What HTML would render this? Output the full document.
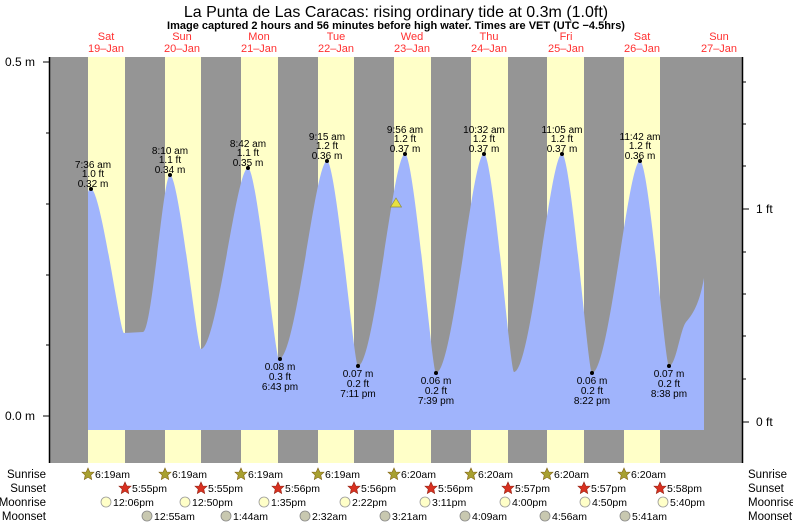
<!DOCTYPE html>
<html><head><meta charset="utf-8"><style>
body{margin:0;background:#fff;}
svg{display:block;font-family:"Liberation Sans",sans-serif;}
</style></head><body>
<svg width="793" height="523" viewBox="0 0 793 523">
<rect width="793" height="523" fill="#fff"/>
<text x="396" y="17" font-size="16" text-anchor="middle" fill="#000">La Punta de Las Caracas: rising  ordinary tide at 0.3m (1.0ft)</text>
<text x="396" y="29" font-size="11" font-weight="bold" text-anchor="middle" fill="#000">Image captured 2 hours and 56 minutes before high water. Times are VET (UTC −4.5hrs)</text>
<g font-size="11" fill="#ff3030" text-anchor="middle">
<text x="106" y="40">Sat</text><text x="106" y="52">19–Jan</text>
<text x="182" y="40">Sun</text><text x="182" y="52">20–Jan</text>
<text x="259" y="40">Mon</text><text x="259" y="52">21–Jan</text>
<text x="336" y="40">Tue</text><text x="336" y="52">22–Jan</text>
<text x="412" y="40">Wed</text><text x="412" y="52">23–Jan</text>
<text x="489" y="40">Thu</text><text x="489" y="52">24–Jan</text>
<text x="566" y="40">Fri</text><text x="566" y="52">25–Jan</text>
<text x="642" y="40">Sat</text><text x="642" y="52">26–Jan</text>
<text x="719" y="40">Sun</text><text x="719" y="52">27–Jan</text>
</g>
<rect x="49" y="57" width="693" height="406" fill="#959595"/>
<g fill="#ffffc8">
<rect x="88" y="57" width="37" height="406"/>
<rect x="165" y="57" width="36" height="406"/>
<rect x="241" y="57" width="37" height="406"/>
<rect x="318" y="57" width="36" height="406"/>
<rect x="394" y="57" width="37" height="406"/>
<rect x="471" y="57" width="37" height="406"/>
<rect x="547" y="57" width="37" height="406"/>
<rect x="624" y="57" width="36" height="406"/>
</g>
<path fill="#a0b4fc" d="M88,430 L88,192 Q89,189 91,189 C101,189 120,333 124,333 L143,332 C152,332 163,175 170,175 C179,175 197,349 201,349 C217,349 236,168 248,168 C257,168 275,359 279,359 C296,359 315,161 327,161 C336,161 354,366 358,366 C374,366 393,154 405,154 C414,154 432,373 436,373 C453,373 472,154 484,154 C493,154 510,372 514,372 C531,372 550,154 562,154 C571,154 588,373 592,373 C609,373 628,161 640,161 C649,161 665,366 669,366 C676,366 680,330 686,322 C695,312 700,300 704,278 L704,430 Z"/>
<line x1="49.5" y1="57" x2="49.5" y2="463" stroke="#000" stroke-width="1.5"/>
<line x1="742.5" y1="57" x2="742.5" y2="463" stroke="#000" stroke-width="1.5"/>
<g stroke="#000">
<line x1="43" y1="62" x2="49" y2="62"/><line x1="46" y1="133" x2="49" y2="133"/><line x1="46" y1="204" x2="49" y2="204"/><line x1="46" y1="275" x2="49" y2="275"/><line x1="46" y1="345" x2="49" y2="345"/><line x1="43" y1="416" x2="49" y2="416"/>
<line x1="743" y1="82" x2="746" y2="82"/><line x1="743" y1="124" x2="746" y2="124"/><line x1="743" y1="166" x2="746" y2="166"/><line x1="743" y1="209" x2="749" y2="209"/><line x1="743" y1="252" x2="746" y2="252"/><line x1="743" y1="294" x2="746" y2="294"/><line x1="743" y1="336" x2="746" y2="336"/><line x1="743" y1="379" x2="746" y2="379"/><line x1="743" y1="422" x2="749" y2="422"/>
</g>
<g font-size="12" fill="#000">
<text x="5" y="66">0.5 m</text><text x="5" y="420">0.0 m</text>
<text x="756" y="213">1 ft</text><text x="756" y="426">0 ft</text>
</g>
<polygon points="396,198 390.5,207 401.5,207" fill="#e8e040" stroke="#8a8a40" stroke-width="0.7"/>
<g fill="#000">
<circle cx="91" cy="189" r="2"/><circle cx="170" cy="175" r="2"/><circle cx="248" cy="168" r="2"/><circle cx="327" cy="161" r="2"/><circle cx="405" cy="154" r="2"/><circle cx="484" cy="154" r="2"/><circle cx="562" cy="154" r="2"/><circle cx="640" cy="161" r="2"/>
<circle cx="280" cy="359" r="2"/><circle cx="358" cy="366" r="2"/><circle cx="436" cy="373" r="2"/><circle cx="592" cy="373" r="2"/><circle cx="669" cy="366" r="2"/>
</g>
<g font-size="10" fill="#000" text-anchor="middle">
<text x="93" y="168">7:36 am</text><text x="93" y="177">1.0 ft</text><text x="93" y="187">0.32 m</text>
<text x="170" y="154">8:10 am</text><text x="170" y="163">1.1 ft</text><text x="170" y="173">0.34 m</text>
<text x="248" y="147">8:42 am</text><text x="248" y="156">1.1 ft</text><text x="248" y="166">0.35 m</text>
<text x="327" y="140">9:15 am</text><text x="327" y="149">1.2 ft</text><text x="327" y="159">0.36 m</text>
<text x="405" y="133">9:56 am</text><text x="405" y="142">1.2 ft</text><text x="405" y="152">0.37 m</text>
<text x="484" y="133">10:32 am</text><text x="484" y="142">1.2 ft</text><text x="484" y="152">0.37 m</text>
<text x="562" y="133">11:05 am</text><text x="562" y="142">1.2 ft</text><text x="562" y="152">0.37 m</text>
<text x="640" y="140">11:42 am</text><text x="640" y="149">1.2 ft</text><text x="640" y="159">0.36 m</text>
<text x="280" y="370">0.08 m</text><text x="280" y="380">0.3 ft</text><text x="280" y="390">6:43 pm</text>
<text x="358" y="377">0.07 m</text><text x="358" y="387">0.2 ft</text><text x="358" y="397">7:11 pm</text>
<text x="436" y="384">0.06 m</text><text x="436" y="394">0.2 ft</text><text x="436" y="404">7:39 pm</text>
<text x="592" y="384">0.06 m</text><text x="592" y="394">0.2 ft</text><text x="592" y="404">8:22 pm</text>
<text x="669" y="377">0.07 m</text><text x="669" y="387">0.2 ft</text><text x="669" y="397">8:38 pm</text>
</g>
<g font-size="11.5" fill="#000">
<text x="46" y="478" text-anchor="end">Sunrise</text><text x="46" y="492" text-anchor="end">Sunset</text><text x="46" y="506" text-anchor="end">Moonrise</text><text x="46" y="520" text-anchor="end">Moonset</text>
<text x="748" y="478">Sunrise</text><text x="748" y="492">Sunset</text><text x="748" y="506">Moonrise</text><text x="748" y="520">Moonset</text>
</g>
<defs>
<polygon id="star" points="0,-6 1.8,-2 6,-1.8 2.8,1.2 3.7,5.5 0,3.3 -3.7,5.5 -2.8,1.2 -6,-1.8 -1.8,-2"/>
</defs>
<g font-size="10.5" fill="#000">
<g fill="#a8a030" stroke="#806010" stroke-width="0.6">
<use href="#star" x="88" y="474"/><use href="#star" x="165" y="474"/><use href="#star" x="241" y="474"/><use href="#star" x="318" y="474"/><use href="#star" x="394" y="474"/><use href="#star" x="471" y="474"/><use href="#star" x="547" y="474"/><use href="#star" x="624" y="474"/>
</g>
<text x="95" y="478">6:19am</text><text x="172" y="478">6:19am</text><text x="248" y="478">6:19am</text><text x="325" y="478">6:19am</text><text x="401" y="478">6:20am</text><text x="478" y="478">6:20am</text><text x="554" y="478">6:20am</text><text x="631" y="478">6:20am</text>
<g fill="#d83020" stroke="#902010" stroke-width="0.6">
<use href="#star" x="125" y="488"/><use href="#star" x="201" y="488"/><use href="#star" x="278" y="488"/><use href="#star" x="354" y="488"/><use href="#star" x="431" y="488"/><use href="#star" x="508" y="488"/><use href="#star" x="584" y="488"/><use href="#star" x="660" y="488"/>
</g>
<text x="132" y="492">5:55pm</text><text x="208" y="492">5:55pm</text><text x="285" y="492">5:56pm</text><text x="361" y="492">5:56pm</text><text x="438" y="492">5:56pm</text><text x="515" y="492">5:57pm</text><text x="591" y="492">5:57pm</text><text x="667" y="492">5:58pm</text>
<g fill="#ffffc8" stroke="#999" stroke-width="0.8">
<circle cx="106" cy="502" r="5"/><circle cx="185" cy="502" r="5"/><circle cx="264" cy="502" r="5"/><circle cx="345" cy="502" r="5"/><circle cx="425" cy="502" r="5"/><circle cx="505" cy="502" r="5"/><circle cx="585" cy="502" r="5"/><circle cx="663" cy="502" r="5"/>
</g>
<text x="113" y="506">12:06pm</text><text x="192" y="506">12:50pm</text><text x="271" y="506">1:35pm</text><text x="352" y="506">2:22pm</text><text x="432" y="506">3:11pm</text><text x="512" y="506">4:00pm</text><text x="592" y="506">4:50pm</text><text x="670" y="506">5:40pm</text>
<g fill="#c8c8b0" stroke="#888" stroke-width="0.8">
<circle cx="147" cy="516" r="5"/><circle cx="226" cy="516" r="5"/><circle cx="305" cy="516" r="5"/><circle cx="385" cy="516" r="5"/><circle cx="465" cy="516" r="5"/><circle cx="545" cy="516" r="5"/><circle cx="625" cy="516" r="5"/>
</g>
<text x="154" y="520">12:55am</text><text x="233" y="520">1:44am</text><text x="312" y="520">2:32am</text><text x="392" y="520">3:21am</text><text x="472" y="520">4:09am</text><text x="552" y="520">4:56am</text><text x="632" y="520">5:41am</text>
</g>
</svg>
</body></html>
